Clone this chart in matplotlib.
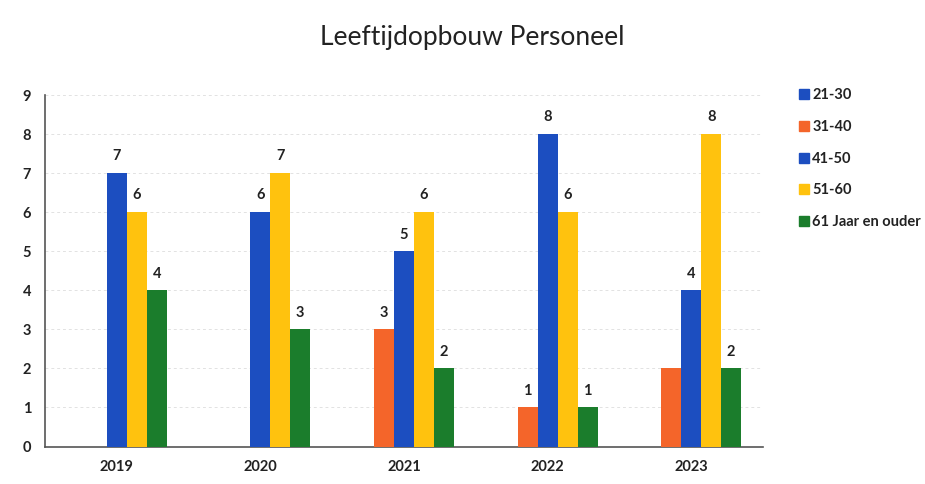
import numpy as np
import matplotlib
matplotlib.use("Agg")
import matplotlib.pyplot as plt
from matplotlib.lines import Line2D

years = ["2019", "2020", "2021", "2022", "2023"]
series_names = ["21-30", "31-40", "41-50", "51-60", "61 Jaar en ouder"]
v_21_30 = [0, 0, 0, 0, 0]
v_31_40 = [0, 0, 3, 1, 2]
v_41_50 = [7, 6, 5, 8, 4]
v_51_60 = [6, 7, 6, 6, 8]
v_61_plus = [4, 3, 2, 1, 2]
# labels missing in the original chart (series index, year index)
hidden_labels = {(1, 4)}

colors = ["#1C4EC0", "#F4652A", "#1C4EC0", "#FFC20E", "#1B7D2C"]
values = [v_21_30, v_31_40, v_41_50, v_51_60, v_61_plus]

plt.rcParams['font.family'] = ['Lato', 'DejaVu Sans']

fig = plt.figure(figsize=(9.25, 4.84), dpi=100)
ax = fig.add_axes([45/925, 1 - 446.5/484, (763-45)/925, (446.5-95)/484])

x = np.arange(len(years))
w = 0.139
for i, (name, vals, c) in enumerate(zip(series_names, values, colors)):
    pos = x + (i - 2) * w
    bars = ax.bar(pos, vals, width=w, color=c, label=name, zorder=3)
    for j, (b, v) in enumerate(zip(bars, vals)):
        if v > 0 and (i, j) not in hidden_labels:
            ax.annotate(str(v), (b.get_x() + b.get_width()/2, v),
                        xytext=(0, 7), textcoords="offset points",
                        ha="center", va="bottom", fontsize=10.5,
                        fontweight="bold", color="#222222")

ax.set_xlim(-0.5, len(years) - 0.5)
ax.set_ylim(0, 9)
ax.set_yticks(range(0, 10))
ax.set_xticks(x)
ax.set_xticklabels(years)
for lbl in ax.get_xticklabels() + ax.get_yticklabels():
    lbl.set_fontweight("bold")
    lbl.set_fontsize(10.5)
    lbl.set_color("#222222")
ax.tick_params(axis="both", length=0)
ax.tick_params(axis="y", pad=10)
ax.tick_params(axis="x", pad=10)
ax.grid(axis="y", color="#e2e2e2", linestyle=(0, (3, 3)), linewidth=0.7, zorder=0)
for s in ["top", "right"]:
    ax.spines[s].set_visible(False)
for s in ["left", "bottom"]:
    ax.spines[s].set_color("#555555")
    ax.spines[s].set_linewidth(1.2)

fig.text(472/925, 1 - 37/484, "Leeftijdopbouw Personeel", ha="center", va="center",
         fontsize=19, color="#222222")

handles = [Line2D([0], [0], marker="s", linestyle="none", markersize=7,
                  markerfacecolor=c, markeredgecolor=c) for c in colors]
leg = fig.legend(handles, series_names, loc="upper left",
                 bbox_to_anchor=(786/925, 1 - 75/484), frameon=False,
                 handlelength=0.6, handletextpad=0.3, labelspacing=1.22,
                 prop={"weight": "bold", "size": 10.5})
for t in leg.get_texts():
    t.set_color("#222222")

fig.savefig("out.png", dpi=100, facecolor="white")
